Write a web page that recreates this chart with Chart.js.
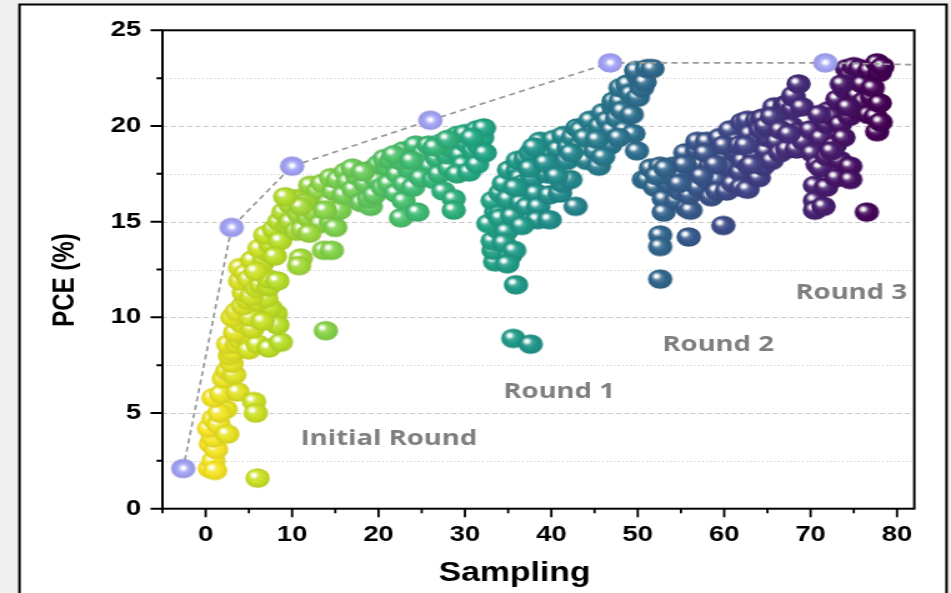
<!DOCTYPE html>
<html>
<head>
<meta charset="utf-8">
<script src="https://cdn.jsdelivr.net/npm/chart.js@4.4.1/dist/chart.umd.min.js"></script>
<style>
  html, body { margin: 0; padding: 0; background: #f0f0f0; overflow: hidden; }
  #wrap { width: 761px; height: 593px; transform: scaleX(1.2497); transform-origin: 0 0; }
</style>
</head>
<body>
<div id="wrap"><canvas id="pce"></canvas></div>
<script>
// sampled PCE values, [sampling index, PCE %]
const initialRound = [
  [0.5,2.1],[0.9,2.5],[1.1,2.0],[0.6,3.4],[1.2,3.1],[0.9,3.7],[0.4,4.2],[0.9,4.7],[1.5,4.4],[2.5,3.9],
  [2.3,5.2],[1.6,5.0],[0.9,5.8],[1.8,6.0],[3.7,6.1],[5.6,5.6],[5.8,5.0],[6.0,1.6],
  [2.1,6.8],[2.5,7.2],[3.3,7.0],[3.0,7.6],[2.8,8.0],[3.1,8.2],[2.6,8.6],[3.6,8.6],[4.0,8.8],[4.5,9.0],
  [5.0,8.3],[6.0,8.6],[7.3,8.4],[8.7,8.7],[3.4,9.2],[4.1,9.7],[5.4,9.4],[3.1,10.0],[3.6,10.3],[5.2,10.0],
  [8.1,10.2],[8.3,9.6],[4.3,10.6],[4.8,10.9],[7.5,10.5],[6.0,10.8],[6.6,9.8],[7.0,11.0],
  [4.4,11.3],[4.0,11.9],[4.0,12.6],[4.6,12.3],[5.3,11.1],[5.0,12.0],[5.9,11.5],[6.4,11.7],[7.3,11.6],
  [7.3,12.0],[8.3,11.9],[6.4,12.7],[5.4,13.0],[6.8,13.0],[7.1,13.4],[6.2,13.6],[7.5,13.8],[5.8,12.4],
  [6.9,14.3],[7.9,14.6],[8.6,14.0],[8.0,13.2],[11.0,13.1],[10.8,12.7],[13.9,9.3],
  [8.5,15.0],[9.0,15.5],[9.8,15.9],[9.5,14.8],[9.8,15.0],[10.5,14.5],[10.8,15.4],[11.2,14.6],[11.9,15.2],
  [12.5,15.5],[12.1,16.9],[12.8,16.2],[13.0,16.6],[13.3,14.9],[13.7,13.5],[14.6,13.5],[10.5,16.2],
  [11.5,16.0],[13.5,17.0],[14.2,16.0],[14.8,16.6],[14.5,17.3],[15.3,17.2],[14.5,15.0],[15.0,14.7],[15.5,15.6],
  [11.0,15.8],[12.0,14.4],[13.8,15.6],[9.2,16.3],
  [16.0,16.4],[16.2,17.6],[16.5,17.1],[17.1,16.7],[17.5,17.4],[18.0,16.0],[18.5,17.0],[19.1,15.8],
  [18.9,16.2],[19.5,16.4],[19.1,17.7],[19.8,17.2],[20.5,16.8],[20.0,18.0],[21.0,17.9],[20.7,18.3],
  [21.5,18.2],[21.2,17.0],[22.2,17.5],[22.0,16.5],[22.9,16.1],[22.6,15.2],[23.0,17.0],[23.5,17.8],
  [22.5,18.2],[22.9,18.7],[24.0,16.8],[24.5,15.5],[24.1,18.4],[24.3,19.0],[25.2,18.6],[25.5,18.0],
  [25.8,19.0],[26.0,17.9],[24.9,17.3],[26.4,17.2],[26.8,18.3],[27.0,17.5],[27.5,16.6],[28.7,16.2],
  [28.7,15.6],[28.2,17.8],[27.9,18.5],[28.5,18.8],[27.2,19.1],[29.1,19.5],[29.5,18.5],[29.8,18.0],
  [29.1,17.5],[30.5,17.6],[30.2,19.1],[30.0,19.6],[31.0,18.7],[31.4,18.0],[31.6,19.0],[31.4,19.8],
  [32.0,19.4],[32.3,18.6],[32.2,19.9],[17.0,17.8],[18.2,17.6],[21.8,18.5],[23.8,18.2],[26.5,18.9],
  [30.8,19.4],[28.0,19.3]
];
const round1 = [
  [33.5,12.9],[33.3,13.5],[33.2,14.0],[33.8,14.6],[32.7,14.9],[33.6,15.5],[33.2,16.1],[34.1,15.4],
  [34.1,15.2],[34.8,14.5],[34.5,13.9],[35.2,13.2],[35.7,13.5],[35.9,11.7],[35.6,8.9],[37.6,8.6],
  [34.1,16.5],[34.5,17.0],[35.0,16.2],[35.5,15.3],[35.1,17.7],[36.1,17.7],[36.1,18.2],[36.4,17.3],
  [36.5,16.0],[36.8,17.0],[37.2,15.8],[37.0,18.3],[37.6,18.6],[37.8,17.3],[38.2,16.5],[38.5,15.8],
  [38.4,15.1],[38.9,17.9],[38.7,19.2],[39.0,18.6],[39.5,17.5],[39.8,16.4],[39.8,15.1],[40.1,18.4],
  [40.2,17.8],[40.3,19.3],[40.8,18.8],[41.0,16.5],[41.3,17.0],[41.4,19.5],[41.8,18.2],[42.0,18.9],
  [42.2,17.2],[42.5,19.4],[42.8,15.8],[43.0,19.9],[43.4,19.0],[43.4,19.8],[43.8,18.6],[44.1,18.2],
  [44.5,20.3],[44.8,19.6],[45.1,18.7],[45.5,17.9],[45.6,20.0],[46.0,20.7],[46.3,19.2],[46.5,20.3],
  [46.8,19.0],[47.0,19.8],[47.2,21.0],[47.2,21.3],[47.6,20.4],[48.0,21.3],[48.0,22.0],[48.2,20.8],
  [48.5,19.8],[48.8,22.2],[49.2,21.7],[49.3,20.6],[49.5,19.6],[49.9,18.7],[50.0,21.5],[50.1,22.6],
  [50.5,22.0],[49.8,22.9],[50.8,22.3],[51.1,23.0],[51.7,23.0],
  [35.8,16.8],[37.5,17.8],[39.3,18.1],[40.6,17.4],[42.3,18.6],[43.9,19.4],[45.3,19.3],[46.0,18.4],
  [47.8,19.4],[38.0,18.9],[36.6,14.8],[34.9,12.8]
];
const round2 = [
  [50.7,17.2],[51.1,17.2],[51.5,17.8],[52.0,16.8],[52.6,17.9],[53.0,16.2],[53.0,15.5],[52.6,14.3],
  [52.6,13.7],[52.6,12.0],[53.5,17.0],[54.1,17.3],[54.1,17.9],[54.5,16.1],[54.9,16.6],[55.0,17.5],
  [55.7,15.7],[55.9,14.2],[56.1,15.6],[56.0,16.4],[55.5,18.6],[56.3,18.0],[56.9,18.7],[56.9,19.2],
  [57.0,16.8],[57.5,18.0],[58.0,19.2],[58.0,17.2],[58.4,17.9],[58.5,16.3],[58.8,18.6],[59.2,17.2],
  [59.2,16.6],[59.5,19.4],[59.9,14.8],[60.0,18.2],[60.3,16.6],[60.3,17.9],[60.7,19.8],[61.0,17.0],
  [61.1,18.7],[61.5,19.2],[61.9,17.6],[62.0,16.8],[62.1,20.2],[62.2,18.2],[62.7,16.7],[62.7,20.3],
  [62.9,17.9],[63.0,19.6],[63.5,18.5],[63.8,19.2],[63.8,20.3],[64.0,17.3],[64.4,20.4],[64.5,17.9],
  [64.5,20.4],[64.9,18.7],[65.0,19.4],[65.3,19.9],[65.5,18.2],[65.8,21.0],[66.0,20.3],[66.1,19.2],
  [66.5,18.6],[66.9,20.7],[67.0,21.1],[67.3,21.1],[67.3,18.8],[67.8,20.0],[68.0,20.9],[68.0,21.5],
  [68.0,21.6],[68.4,18.8],[68.6,19.7],[68.6,22.2],[69.0,21.0],[69.2,19.2],
  [52.2,17.4],[53.2,17.8],[54.8,17.0],[55.4,18.0],[57.8,18.6],[59.0,18.0],[60.0,19.0],[61.8,19.0],
  [62.5,19.0],[63.2,18.0],[64.2,19.8],[64.8,20.0],[65.5,20.5],[66.5,19.8],[67.5,19.6],[57.4,17.4]
];
const round3 = [
  [70.0,19.8],[70.2,18.6],[70.5,16.9],[70.5,16.1],[70.5,15.6],[70.8,18.0],[71.2,19.4],[71.2,17.8],
  [71.5,15.8],[71.8,16.8],[71.9,20.1],[71.9,18.4],[72.1,20.8],[72.5,20.5],[72.8,19.0],[73.0,17.3],
  [73.1,21.4],[73.4,20.1],[73.4,18.2],[73.8,19.4],[74.0,21.9],[74.2,23.0],[74.5,20.5],[74.6,22.7],
  [74.6,17.9],[74.6,17.2],[75.0,23.1],[75.4,21.6],[75.5,20.8],[75.7,23.0],[76.0,22.2],[76.2,21.3],
  [76.5,15.5],[76.7,20.6],[76.8,22.9],[77.1,21.5],[77.2,22.0],[77.5,20.5],[77.7,19.7],[77.7,23.3],
  [78.0,22.8],[78.0,21.2],[78.1,20.2],[78.3,23.1],[71.0,20.6],[72.4,18.7],[74.3,21.0],[73.6,22.2]
];
// best PCE found so far (last entry only carries the line to the frame)
const bestX = [-2.6, 3.0, 10.0, 26.0, 46.8, 71.7, 82.0];
const bestY = [2.1, 14.7, 17.9, 20.3, 23.3, 23.3, 23.2];

const xTickValues = [0, 10, 20, 30, 40, 50, 60, 70, 80];
const xMinorTicks = [-5, 5, 15, 25, 35, 45, 55, 65, 75];
const yTickValues = [0, 5, 10, 15, 20, 25];
const yMinorTicks = [2.5, 7.5, 12.5, 17.5, 22.5];

const roundLabels = ['Initial Round', 'Round 1', 'Round 2', 'Round 3'];
const roundLabelX = [21.2, 40.9, 59.3, 74.7];
const roundLabelY = [3.66, 6.12, 8.58, 11.3];

// viridis, reversed along the sampling axis
const viridis = [
  [68,1,84],[72,36,117],[65,68,135],[53,95,141],[42,120,142],[33,145,140],
  [34,168,132],[68,191,112],[122,209,81],[189,223,38],[253,231,37]
];
function viridisAt(t) {
  t = Math.max(0, Math.min(1, t)) * (viridis.length - 1);
  const i = Math.min(Math.floor(t), viridis.length - 2), f = t - i;
  return viridis[i].map((v, k) => Math.round(v + (viridis[i + 1][k] - v) * f));
}
const mix = (a, b, f) => a.map((v, k) => Math.round(v + (b[k] - v) * f));
const rgb = c => `rgb(${c[0]},${c[1]},${c[2]})`;

function makeBall(col, r, hx, hy) {
  const s = Math.ceil(2 * r + 2), c = s / 2;
  const cv = document.createElement('canvas');
  cv.width = s; cv.height = s;
  const g = cv.getContext('2d');
  const body = g.createRadialGradient(c + hx * r, c + hy * r, 0.1 * r, c, c, r);
  body.addColorStop(0, rgb(mix(col, [255,255,255], 0.3)));
  body.addColorStop(0.55, rgb(col));
  body.addColorStop(1, rgb(mix(col, [0,0,0], 0.1)));
  g.fillStyle = body;
  g.beginPath(); g.arc(c, c, r, 0, Math.PI * 2); g.fill();
  const hl = g.createRadialGradient(c + hx * r, c + hy * r, 0, c + hx * r, c + hy * r, 0.45 * r);
  hl.addColorStop(0, 'rgba(255,255,255,1)');
  hl.addColorStop(0.35, 'rgba(255,255,255,0.9)');
  hl.addColorStop(0.65, 'rgba(255,255,255,0.35)');
  hl.addColorStop(1, 'rgba(255,255,255,0)');
  g.fillStyle = hl;
  g.beginPath(); g.arc(c, c, r, 0, Math.PI * 2); g.fill();
  return cv;
}

const R = 9.8;
const ballCache = {};
function ballFor(x) {
  const key = Math.round(x * 2);
  if (!ballCache[key]) ballCache[key] = makeBall(viridisAt(1 - key / 2 / 78), R, -0.3, -0.3);
  return ballCache[key];
}
const bestBall = makeBall([163,163,246], R, 0, -0.05);

const toPoints = arr => arr.map(p => ({ x: p[0], y: p[1] }));

const tickFont = { family: '"Liberation Sans", Arial, sans-serif', size: 22, weight: 'bold' };

const decor = {
  id: 'decor',
  beforeDraw(chart) {
    const c = chart.ctx;
    c.save();
    c.fillStyle = '#ffffff';
    c.fillRect(15.6, 4.5, 741.8, 600);
    c.lineWidth = 2;
    c.strokeStyle = '#000';
    c.strokeRect(15.6, 4.5, 741.8, 600);
    c.restore();
  },
  beforeDatasetsDraw(chart) {
    const c = chart.ctx, a = chart.chartArea, ys = chart.scales.y;
    c.save();
    c.strokeStyle = '#c8c8c8';
    c.lineWidth = 1;
    yTickValues.concat(yMinorTicks).forEach(v => {
      if (v <= 0 || v >= 25) return;
      const py = Math.round(ys.getPixelForValue(v)) + 0.5;
      c.setLineDash(v % 5 === 0 ? [4, 2.6] : [1, 2.2]);
      c.beginPath(); c.moveTo(a.left, py); c.lineTo(a.right, py); c.stroke();
    });
    c.restore();
  },
  afterDatasetsDraw(chart) {
    const c = chart.ctx, a = chart.chartArea, xs = chart.scales.x, ys = chart.scales.y;
    c.save();
    c.strokeStyle = '#000';
    c.lineWidth = 2;
    c.strokeRect(a.left, a.top, a.right - a.left, a.bottom - a.top);
    c.beginPath();
    yTickValues.forEach(v => { const p = ys.getPixelForValue(v); c.moveTo(a.left, p); c.lineTo(a.left - 9.6, p); });
    yMinorTicks.forEach(v => { const p = ys.getPixelForValue(v); c.moveTo(a.left, p); c.lineTo(a.left - 4.8, p); });
    c.stroke();
    c.lineWidth = 1.8;
    c.beginPath();
    xTickValues.forEach(v => { const p = xs.getPixelForValue(v); c.moveTo(p, a.bottom); c.lineTo(p, a.bottom + 8.5); });
    xMinorTicks.forEach(v => { const p = xs.getPixelForValue(v); c.moveTo(p, a.bottom); c.lineTo(p, a.bottom + 4.5); });
    c.stroke();

    c.fillStyle = '#7f7f7f';
    c.font = 'bold 22px "Open Sans", sans-serif';
    c.textAlign = 'center';
    c.textBaseline = 'middle';
    roundLabels.forEach((t, i) => c.fillText(t, xs.getPixelForValue(roundLabelX[i]), ys.getPixelForValue(roundLabelY[i])));

    c.fillStyle = '#000';
    c.font = 'bold 27px "Liberation Sans", Arial, sans-serif';
    c.textBaseline = 'alphabetic';
    c.fillText('Sampling', 411.7, 581);
    c.font = 'bold 24px "Liberation Sans", Arial, sans-serif';
    c.translate(59, 280);
    c.rotate(-Math.PI / 2);
    c.fillText('PCE (%)', 0, 0);
    c.restore();
  }
};

new Chart(document.getElementById('pce'), {
  type: 'scatter',
  data: {
    datasets: [{
      type: 'line',
      data: bestX.map((x, i) => ({ x, y: bestY[i] })),
      borderColor: '#999999',
      borderWidth: 1.7,
      borderDash: [5, 3.5],
      fill: false,
      tension: 0,
      pointStyle: ctx => ctx.dataIndex < bestX.length - 1 ? bestBall : false,
      pointRadius: ctx => ctx.dataIndex < bestX.length - 1 ? R : 0
    }, {
      data: toPoints(round3),
      pointStyle: ctx => ballFor(ctx.raw.x), pointRadius: R
    }, {
      data: toPoints(round2),
      pointStyle: ctx => ballFor(ctx.raw.x), pointRadius: R
    }, {
      data: toPoints(round1),
      pointStyle: ctx => ballFor(ctx.raw.x), pointRadius: R
    }, {
      data: toPoints(initialRound),
      pointStyle: ctx => ballFor(ctx.raw.x), pointRadius: R
    }]
  },
  options: {
    responsive: true,
    maintainAspectRatio: false,
    animation: false,
    devicePixelRatio: 1,
    layout: { padding: { top: 30.3, right: 29.4, left: 0, bottom: 0 } },
    plugins: { legend: { display: false }, tooltip: { enabled: false } },
    scales: {
      x: {
        type: 'linear', min: -5, max: 82,
        grid: { display: false, drawTicks: false },
        border: { display: false },
        afterBuildTicks: s => { s.ticks = xTickValues.map(v => ({ value: v })); },
        afterFit: s => { s.height = 84.3; },
        ticks: { color: '#000', font: tickFont, padding: 13, maxRotation: 0 }
      },
      y: {
        type: 'linear', min: 0, max: 25,
        grid: { display: false, drawTicks: false },
        border: { display: false },
        afterBuildTicks: s => { s.ticks = yTickValues.map(v => ({ value: v })); },
        afterFit: s => { s.width = 130; },
        ticks: { color: '#000', font: tickFont, padding: 17 }
      }
    }
  },
  plugins: [decor]
});
</script>
</body>
</html>
